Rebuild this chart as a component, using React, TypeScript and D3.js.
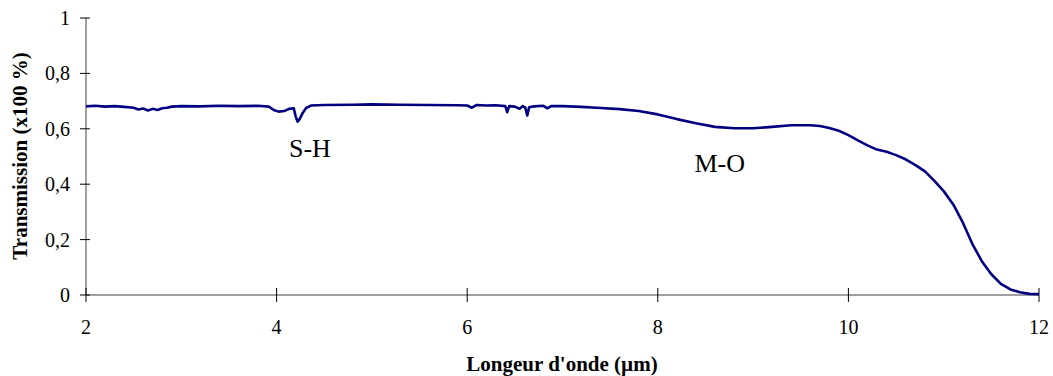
import React from "react";
import * as d3 from "d3";

const wavelength = [
  2.0, 2.1, 2.2, 2.3, 2.4, 2.5, 2.55, 2.6, 2.65, 2.7, 2.75, 2.8, 2.85, 2.9, 3.0, 3.2, 3.4, 3.6, 3.8,
  3.92, 3.97, 4.02, 4.08, 4.13, 4.18, 4.2, 4.22, 4.24, 4.27, 4.31, 4.36, 4.5, 4.8, 5.0, 5.3, 5.6,
  5.9, 6.0, 6.05, 6.1, 6.2, 6.3, 6.4, 6.42, 6.44, 6.5, 6.55, 6.58, 6.61, 6.63, 6.65, 6.7, 6.8, 6.84,
  6.88, 7.0, 7.2, 7.4, 7.6, 7.8, 8.0, 8.2, 8.4, 8.6, 8.8, 9.0, 9.2, 9.4, 9.6, 9.7, 9.8, 9.9, 10.0,
  10.1, 10.2, 10.3, 10.4, 10.5, 10.6, 10.7, 10.8, 10.9, 11.0, 11.1, 11.2, 11.3, 11.4, 11.5, 11.6,
  11.7, 11.8, 11.9, 12.0,
];
const transmission = [
  0.681, 0.683, 0.68, 0.682, 0.679, 0.676, 0.67, 0.673, 0.666, 0.672, 0.668, 0.674, 0.676, 0.68,
  0.682, 0.681, 0.683, 0.682, 0.683, 0.68, 0.668, 0.662, 0.664, 0.672, 0.674, 0.645, 0.626, 0.634,
  0.655, 0.675, 0.684, 0.686, 0.687, 0.688, 0.687, 0.686, 0.685, 0.684, 0.676, 0.686, 0.684, 0.685,
  0.682, 0.66, 0.682, 0.68, 0.672, 0.682, 0.676, 0.648, 0.678, 0.681, 0.683, 0.674, 0.682, 0.682,
  0.679, 0.675, 0.671, 0.664, 0.652, 0.635, 0.62, 0.607, 0.602, 0.602, 0.607, 0.613, 0.613, 0.61,
  0.603, 0.593, 0.577, 0.558, 0.54, 0.525, 0.517, 0.505, 0.49, 0.47, 0.447, 0.413, 0.375, 0.327,
  0.262, 0.185, 0.122, 0.075, 0.04, 0.02, 0.01, 0.004, 0.003,
];
const xTicks = [2, 4, 6, 8, 10, 12];
const yTicks = [0, 0.2, 0.4, 0.6, 0.8, 1];
const annotations = [
  { label: "S-H", x: 4.35, y: 0.5 },
  { label: "M-O", x: 8.65, y: 0.445 },
];
const xTitle = "Longeur d'onde (µm)";
const yTitle = "Transmission (x100 %)";

export default function App() {
  const W = 1053;
  const H = 376;
  const x = d3.scaleLinear().domain([2, 12]).range([86, 1039]);
  const y = d3.scaleLinear().domain([0, 1]).range([295, 18]);
  const pts: [number, number][] = wavelength.map((w, i) => [w, transmission[i]]);
  const line = d3
    .line<[number, number]>()
    .x((d) => x(d[0]))
    .y((d) => y(d[1]));
  const fmt = (v: number) => String(v).replace(".", ",");
  const font = "'Liberation Serif', 'Times New Roman', serif";
  return (
    <svg
      width={W}
      height={H}
      style={{ position: "absolute", left: 0, top: 0, background: "#fff" }}
      fontFamily={font}
    >
      <line x1={x(2)} x2={x(12)} y1={y(0)} y2={y(0)} stroke="#808080" strokeWidth={1.5} />
      <line x1={x(2)} x2={x(2)} y1={y(0)} y2={y(1)} stroke="#808080" strokeWidth={1.5} />
      {xTicks.map((t) => (
        <g key={"x" + t}>
          <line x1={x(t)} x2={x(t)} y1={y(0) - 7} y2={y(0) + 7} stroke="#000" strokeWidth={1} />
          <text x={x(t)} y={334} fontSize={20} textAnchor="middle" fill="#000">
            {fmt(t)}
          </text>
        </g>
      ))}
      {yTicks.map((t) => (
        <g key={"y" + t}>
          <line x1={x(2) - 6} x2={x(2) + 4} y1={y(t)} y2={y(t)} stroke="#000" strokeWidth={1} />
          <text x={70} y={y(t) + 7} fontSize={20} textAnchor="end" fill="#000">
            {fmt(t)}
          </text>
        </g>
      ))}
      <path d={line(pts) || ""} fill="none" stroke="#000080" strokeWidth={2.6} strokeLinejoin="round" />
      {annotations.map((a) => (
        <text key={a.label} x={x(a.x)} y={y(a.y)} fontSize={26} textAnchor="middle" fill="#000">
          {a.label}
        </text>
      ))}
      <text x={562} y={371} fontSize={21} fontWeight="bold" textAnchor="middle" fill="#000">
        {xTitle}
      </text>
      <text
        transform={`translate(27,156) rotate(-90)`}
        fontSize={21}
        fontWeight="bold"
        textAnchor="middle"
        fill="#000"
      >
        {yTitle}
      </text>
    </svg>
  );
}
